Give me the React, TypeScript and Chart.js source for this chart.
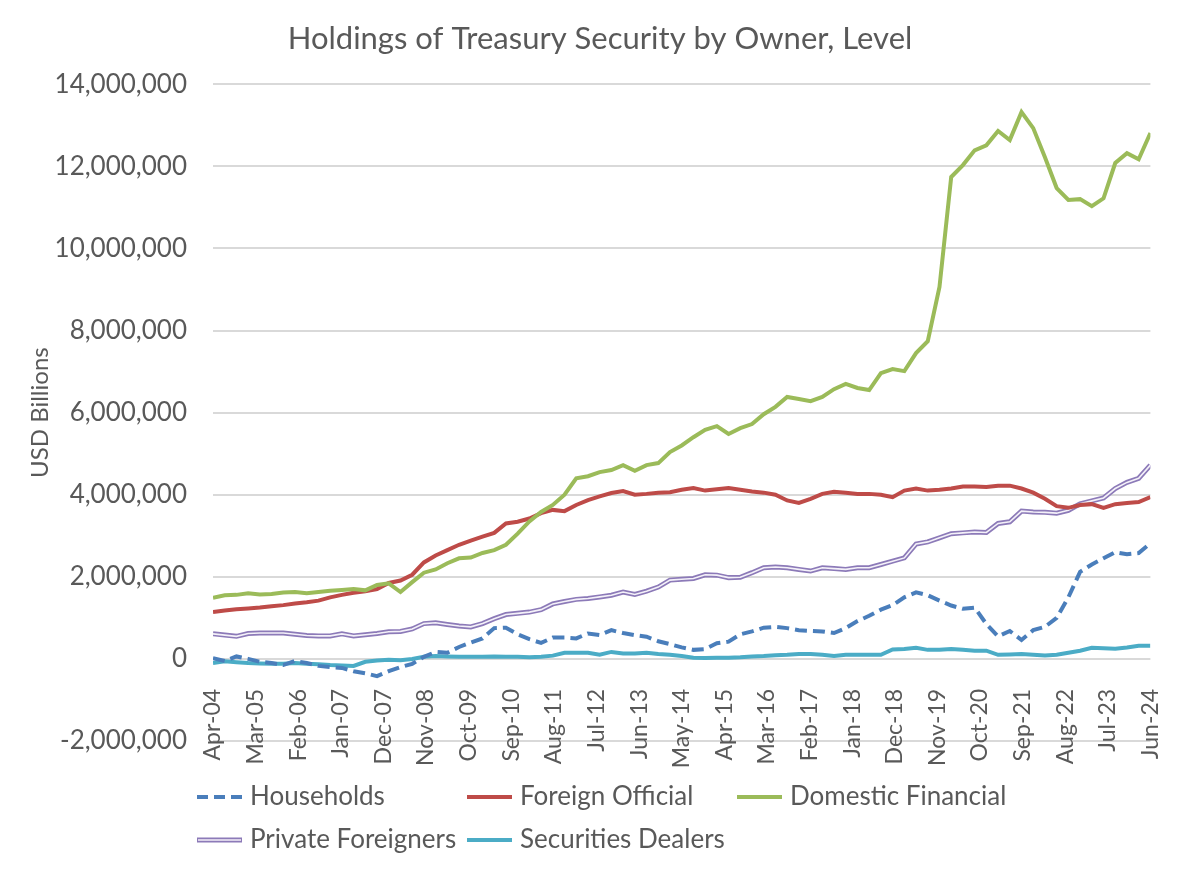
import React, { useEffect, useRef } from "react";
import { Chart, registerables } from "chart.js";

Chart.register(...registerables);

const FONT = "Lato, 'Open Sans', sans-serif";
const TEXT = "#595959";

const TITLE = "Holdings of Treasury Security by Owner, Level";
const Y_TITLE = "USD Billions";

const X_TICK_MONTHS = [0, 11, 22, 33, 44, 55, 66, 77, 88, 99, 110, 121, 132, 143, 154, 165, 176, 187, 198, 209, 220, 231, 242];
const X_TICK_LABELS = ["Apr-04", "Mar-05", "Feb-06", "Jan-07", "Dec-07", "Nov-08", "Oct-09", "Sep-10", "Aug-11", "Jul-12", "Jun-13", "May-14", "Apr-15", "Mar-16", "Feb-17", "Jan-18", "Dec-18", "Nov-19", "Oct-20", "Sep-21", "Aug-22", "Jul-23", "Jun-24"];
const MONTHS_SPANNED = 242;

const Y_MIN = -2000000;
const Y_MAX = 14000000;
const Y_STEP = 2000000;

// quarterly observations, Apr-04 .. Jun-24
const households = [20000, -50000, 60000, 0, -70000, -100000, -150000, -50000, -100000, -170000,
  -200000, -220000, -300000, -350000, -420000, -300000, -200000, -120000, 50000, 170000,
  150000, 290000, 400000, 500000, 750000, 760000, 600000, 480000, 390000, 520000,
  520000, 500000, 620000, 580000, 700000, 630000, 580000, 540000, 430000, 360000,
  280000, 220000, 240000, 380000, 420000, 600000, 670000, 760000, 780000, 750000,
  700000, 680000, 670000, 630000, 750000, 920000, 1050000, 1200000, 1310000, 1500000,
  1620000, 1550000, 1420000, 1300000, 1220000, 1250000, 850000, 550000, 680000, 460000,
  700000, 780000, 1000000, 1500000, 2120000, 2300000, 2450000, 2600000, 2550000, 2580000, 2820000];

const foreignOfficial = [1140000, 1180000, 1210000, 1230000, 1250000, 1280000, 1310000, 1350000, 1380000, 1420000,
  1500000, 1560000, 1610000, 1650000, 1700000, 1850000, 1910000, 2050000, 2350000, 2520000,
  2650000, 2780000, 2880000, 2980000, 3070000, 3300000, 3340000, 3420000, 3550000, 3630000,
  3600000, 3750000, 3870000, 3960000, 4040000, 4090000, 4000000, 4020000, 4050000, 4060000,
  4120000, 4160000, 4100000, 4130000, 4160000, 4120000, 4080000, 4050000, 4000000, 3860000,
  3800000, 3900000, 4020000, 4070000, 4050000, 4020000, 4020000, 4000000, 3940000, 4100000,
  4150000, 4100000, 4120000, 4150000, 4200000, 4200000, 4190000, 4220000, 4220000, 4150000,
  4050000, 3900000, 3720000, 3680000, 3750000, 3770000, 3680000, 3770000, 3800000, 3820000, 3940000];

const domesticFinancial = [1490000, 1550000, 1560000, 1600000, 1570000, 1580000, 1620000, 1630000, 1600000, 1630000,
  1660000, 1680000, 1700000, 1670000, 1800000, 1840000, 1630000, 1870000, 2100000, 2180000,
  2330000, 2450000, 2470000, 2580000, 2650000, 2780000, 3050000, 3350000, 3580000, 3750000,
  4000000, 4400000, 4450000, 4550000, 4600000, 4720000, 4580000, 4720000, 4770000, 5040000,
  5200000, 5400000, 5580000, 5670000, 5480000, 5620000, 5720000, 5960000, 6140000, 6380000,
  6330000, 6280000, 6380000, 6570000, 6700000, 6600000, 6550000, 6960000, 7060000, 7010000,
  7450000, 7740000, 9060000, 11740000, 12030000, 12390000, 12510000, 12860000, 12640000, 13320000,
  12930000, 12220000, 11470000, 11180000, 11200000, 11030000, 11220000, 12080000, 12320000, 12170000, 12810000];

const privateForeigners = [610000, 580000, 550000, 620000, 630000, 630000, 630000, 600000, 570000, 560000,
  560000, 610000, 560000, 590000, 620000, 660000, 670000, 730000, 860000, 880000,
  840000, 800000, 780000, 860000, 980000, 1080000, 1110000, 1140000, 1200000, 1340000,
  1400000, 1450000, 1470000, 1510000, 1550000, 1630000, 1570000, 1650000, 1750000, 1920000,
  1940000, 1960000, 2050000, 2040000, 1980000, 1990000, 2100000, 2220000, 2240000, 2220000,
  2180000, 2140000, 2220000, 2200000, 2180000, 2220000, 2220000, 2300000, 2380000, 2460000,
  2800000, 2850000, 2950000, 3050000, 3070000, 3090000, 3080000, 3300000, 3340000, 3600000,
  3580000, 3570000, 3550000, 3620000, 3780000, 3850000, 3920000, 4150000, 4300000, 4400000, 4720000];

const securitiesDealers = [-100000, -60000, -80000, -100000, -110000, -120000, -120000, -100000, -120000, -130000,
  -150000, -160000, -170000, -70000, -40000, -20000, -30000, 0, 50000, 70000,
  60000, 50000, 50000, 50000, 60000, 50000, 50000, 40000, 50000, 80000,
  150000, 150000, 150000, 100000, 170000, 130000, 130000, 150000, 120000, 100000,
  70000, 30000, 20000, 30000, 30000, 40000, 60000, 70000, 90000, 100000,
  120000, 120000, 100000, 70000, 100000, 100000, 100000, 100000, 230000, 240000,
  270000, 220000, 220000, 240000, 220000, 200000, 200000, 100000, 110000, 120000,
  100000, 80000, 100000, 150000, 200000, 270000, 260000, 250000, 280000, 320000, 320000];

const SERIES = [
  { label: "Households", values: households, color: "#4A7EBB", style: "dash" },
  { label: "Foreign Official", values: foreignOfficial, color: "#BE4B48", style: "solid" },
  { label: "Domestic Financial", values: domesticFinancial, color: "#9BBB59", style: "solid" },
  { label: "Private Foreigners", values: privateForeigners, color: "#8C7AB8", style: "double" },
  { label: "Securities Dealers", values: securitiesDealers, color: "#4BACC6", style: "solid" },
];

const LINE_W = 4;
const DASH = [12, 6];
const DOUBLE_INNER = "#F4F1F9";

function toPoints(values: number[]) {
  const step = MONTHS_SPANNED / (values.length - 1);
  return values.map((v, i) => ({ x: i * step, y: v }));
}

const legendPlugin = {
  id: "manualLegend",
  afterDraw(chart: any, _args: any, opts: any) {
    const ctx = chart.ctx;
    ctx.save();
    ctx.font = `${opts.fontSize}px ${FONT}`;
    ctx.textBaseline = "middle";
    ctx.textAlign = "left";
    SERIES.forEach((s, k) => {
      const x = opts.left + (k % opts.columns) * opts.colWidth;
      const y = opts.top + Math.floor(k / opts.columns) * opts.rowHeight;
      ctx.lineCap = "butt";
      if (s.style === "double") {
        ctx.setLineDash([]);
        ctx.strokeStyle = s.color;
        ctx.lineWidth = 5;
        ctx.beginPath(); ctx.moveTo(x, y); ctx.lineTo(x + opts.sample, y); ctx.stroke();
        ctx.strokeStyle = DOUBLE_INNER;
        ctx.lineWidth = 1.6;
        ctx.beginPath(); ctx.moveTo(x + 1, y); ctx.lineTo(x + opts.sample - 1, y); ctx.stroke();
      } else {
        ctx.setLineDash(s.style === "dash" ? [11, 6] : []);
        ctx.strokeStyle = s.color;
        ctx.lineWidth = LINE_W;
        ctx.beginPath(); ctx.moveTo(x, y); ctx.lineTo(x + opts.sample, y); ctx.stroke();
      }
      ctx.setLineDash([]);
      ctx.fillStyle = TEXT;
      ctx.fillText(s.label, x + opts.sample + opts.gap, y);
    });
    ctx.restore();
  },
};

export default function App() {
  const ref = useRef<HTMLCanvasElement | null>(null);

  useEffect(() => {
    if (!ref.current) return;
    const datasets: any[] = [];
    const orderOf: Record<string, number> = {
      "Domestic Financial": 0,
      "Foreign Official": 1,
      "Households": 4,
      "Securities Dealers": 5,
    };
    SERIES.forEach((s) => {
      if (s.style === "double") {
        datasets.push({
          label: s.label + " (inner)",
          data: toPoints(s.values),
          borderColor: DOUBLE_INNER,
          borderWidth: 1.6,
          pointRadius: 0,
          tension: 0,
          order: 2,
        });
        datasets.push({
          label: s.label,
          data: toPoints(s.values),
          borderColor: s.color,
          borderWidth: 5,
          pointRadius: 0,
          tension: 0,
          order: 3,
        });
      } else {
        datasets.push({
          label: s.label,
          data: toPoints(s.values),
          borderColor: s.color,
          borderWidth: LINE_W,
          borderDash: s.style === "dash" ? DASH : [],
          pointRadius: 0,
          tension: 0,
          order: orderOf[s.label],
        });
      }
    });

    const chart = new Chart(ref.current, {
      type: "line",
      data: { datasets },
      plugins: [legendPlugin],
      options: {
        responsive: false,
        animation: false,
        layout: { padding: { left: 22, right: 22, top: 0, bottom: 131 } },
        plugins: {
          legend: { display: false },
          tooltip: { enabled: false },
          title: {
            display: true,
            text: TITLE,
            color: TEXT,
            font: { family: FONT, size: 31, weight: "normal" },
            padding: { top: 20, bottom: 27 },
          },
          manualLegend: {
            left: 197,
            top: 797,
            columns: 3,
            colWidth: 270,
            rowHeight: 43,
            sample: 45,
            gap: 8,
            fontSize: 26,
          },
        } as any,
        scales: {
          x: {
            type: "linear",
            min: 0,
            max: MONTHS_SPANNED,
            position: { y: 0 } as any,
            grid: { display: false },
            border: { display: false },
            afterBuildTicks: (scale: any) => {
              scale.ticks = X_TICK_MONTHS.map((v) => ({ value: v }));
            },
            ticks: {
              autoSkip: false,
              minRotation: 90,
              maxRotation: 90,
              padding: 22,
              color: TEXT,
              font: { family: FONT, size: 23 },
              callback: (_v: any, i: number) => X_TICK_LABELS[i],
            },
          },
          y: {
            min: Y_MIN,
            max: Y_MAX,
            afterFit: (scale: any) => {
              scale.width = 191;
            },
            grid: { color: "#D9D9D9", lineWidth: 2, drawTicks: false },
            border: { display: false },
            ticks: {
              stepSize: Y_STEP,
              padding: 26,
              color: TEXT,
              font: { family: FONT, size: 26 },
              callback: (v: any) => Number(v).toLocaleString("en-US"),
            },
            title: {
              display: true,
              text: Y_TITLE,
              color: TEXT,
              font: { family: FONT, size: 24 },
              padding: { top: 4, bottom: 0 },
            },
          },
        },
      },
    });
    return () => chart.destroy();
  }, []);

  return (
    <div style={{ position: "fixed", left: 0, top: 0, width: 1200, height: 872, background: "#fff" }}>
      <canvas ref={ref} width={1200} height={872} style={{ width: 1200, height: 872 }} />
    </div>
  );
}
